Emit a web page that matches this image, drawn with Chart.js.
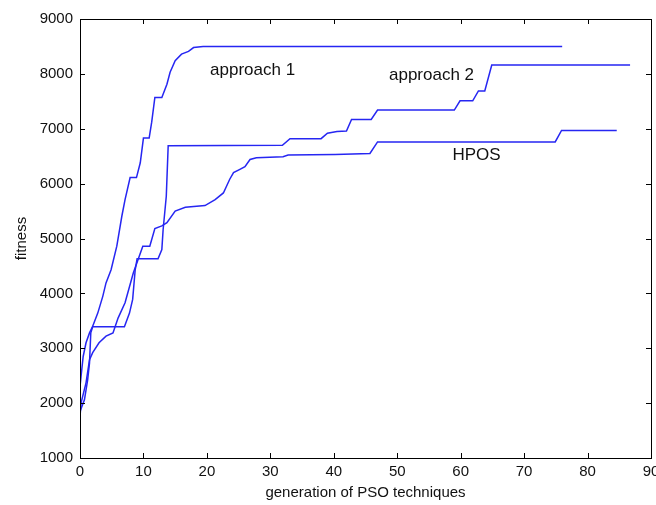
<!DOCTYPE html>
<html>
<head>
<meta charset="utf-8">
<script src="https://cdn.jsdelivr.net/npm/chart.js@4/dist/chart.umd.min.js"></script>
<style>
  html, body { margin: 0; padding: 0; background: #fff; }
  canvas { display: block; }
</style>
</head>
<body>
<canvas id="chart" width="656" height="505"></canvas>
<script>
// Data (generation, fitness)
const approach1X = [0, 0.16, 0.5, 0.95, 1.5, 2.0, 2.8, 3.6, 4.1, 4.9, 5.8, 6.6, 7.1, 7.9, 8.9, 9.5, 10.0, 10.9, 11.3, 11.8, 12.9, 13.7, 14.2, 15.0, 16.0, 17.1, 17.9, 19.4, 76];
const approach1Y = [2300, 2480, 2850, 3100, 3280, 3400, 3640, 3950, 4190, 4430, 4860, 5410, 5710, 6110, 6110, 6380, 6830, 6830, 7120, 7570, 7570, 7810, 8030, 8240, 8360, 8410, 8480, 8500, 8500];

const approach2X = [0, 0.7, 1.2, 1.5, 1.7, 2.0, 7.0, 7.8, 8.3, 8.7, 9.0, 12.3, 12.9, 13.1, 13.6, 13.9, 31.9, 33.1, 38.0, 39.0, 40.5, 42.0, 42.8, 45.9, 46.9, 59.0, 59.9, 61.9, 62.8, 63.8, 64.9, 86.7];
const approach2Y = [1850, 2060, 2420, 2730, 3280, 3390, 3390, 3640, 3890, 4430, 4630, 4630, 4800, 5160, 5770, 6690, 6700, 6820, 6820, 6920, 6950, 6960, 7170, 7170, 7340, 7340, 7510, 7510, 7690, 7690, 8160, 8160];

const hposX = [0, 0.16, 0.95, 1.5, 2.0, 3.0, 4.1, 5.2, 6.0, 7.1, 8.4, 9.9, 11.0, 11.8, 12.9, 13.7, 15.0, 16.6, 19.7, 21.3, 22.6, 23.6, 24.2, 25.2, 26.0, 26.8, 27.8, 32.0, 32.8, 40.2, 45.7, 46.9, 74.9, 75.9, 84.6];
const hposY = [1750, 2000, 2370, 2790, 2920, 3100, 3220, 3280, 3550, 3830, 4370, 4860, 4860, 5180, 5230, 5290, 5500, 5570, 5600, 5710, 5830, 6080, 6200, 6260, 6310, 6440, 6470, 6490, 6520, 6530, 6550, 6760, 6760, 6970, 6970];

const xTicks = [0, 10, 20, 30, 40, 50, 60, 70, 80, 90];
const yTicks = [1000, 2000, 3000, 4000, 5000, 6000, 7000, 8000, 9000];

// in-plot text labels, placed in data coordinates (left edge, baseline)
const labelTexts = ['approach 1', 'approach 2', 'HPOS'];
const labelX = [20.5, 48.7, 58.7];
const labelY = [7980, 7890, 6430];

const LINE = '#2626f2';

function pts(xs, ys) {
  return xs.map((x, i) => ({ x: x, y: ys[i] }));
}

function series(label, xs, ys) {
  return {
    label: label,
    data: pts(xs, ys),
    showLine: true,
    borderColor: LINE,
    borderWidth: 1.5,
    pointRadius: 0,
    tension: 0,
    fill: false
  };
}

// MATLAB style box with inward ticks + text labels
const boxPlugin = {
  id: 'box',
  afterDraw(chart) {
    const { ctx, chartArea: a, scales: { x, y } } = chart;
    ctx.save();
    ctx.strokeStyle = '#000';
    ctx.lineWidth = 1;
    ctx.strokeRect(Math.round(a.left) + 0.5, Math.round(a.top) + 0.5,
      Math.round(a.right - a.left), Math.round(a.bottom - a.top));
    ctx.beginPath();
    xTicks.forEach(v => {
      const px = Math.round(x.getPixelForValue(v)) + 0.5;
      ctx.moveTo(px, a.bottom); ctx.lineTo(px, a.bottom - 5);
      ctx.moveTo(px, a.top); ctx.lineTo(px, a.top + 5);
    });
    yTicks.forEach(v => {
      const py = Math.round(y.getPixelForValue(v)) + 0.5;
      ctx.moveTo(a.left, py); ctx.lineTo(a.left + 5, py);
      ctx.moveTo(a.right, py); ctx.lineTo(a.right - 5, py);
    });
    ctx.stroke();

    ctx.fillStyle = '#111';
    ctx.font = '17px "Liberation Sans", Arial, sans-serif';
    ctx.textAlign = 'left';
    ctx.textBaseline = 'alphabetic';
    labelTexts.forEach((t, i) => {
      ctx.fillText(t, x.getPixelForValue(labelX[i]), y.getPixelForValue(labelY[i]));
    });
    ctx.restore();
  }
};

const tickFont = { family: '"Liberation Sans", Arial, sans-serif', size: 15 };

new Chart(document.getElementById('chart'), {
  type: 'scatter',
  data: {
    datasets: [
      series('approach 1', approach1X, approach1Y),
      series('approach 2', approach2X, approach2Y),
      series('HPOS', hposX, hposY)
    ]
  },
  options: {
    responsive: false,
    animation: false,
    layout: { padding: { top: 19, right: 5, left: 0, bottom: 0 } },
    plugins: {
      legend: { display: false },
      tooltip: { enabled: false }
    },
    scales: {
      x: {
        type: 'linear',
        min: 0,
        max: 90,
        afterBuildTicks: s => { s.ticks = xTicks.map(v => ({ value: v })); },
        afterFit: s => { s.height = 47; s.paddingLeft = 0; s.paddingRight = 0; },
        grid: { display: false, drawTicks: false },
        border: { display: false },
        ticks: { color: '#111', font: tickFont, padding: 5, maxRotation: 0, callback: v => String(v) },
        title: {
          display: true,
          text: 'generation of PSO techniques',
          color: '#111',
          font: tickFont,
          padding: { top: 0, bottom: 3 }
        }
      },
      y: {
        type: 'linear',
        min: 1000,
        max: 9000,
        afterBuildTicks: s => { s.ticks = yTicks.map(v => ({ value: v })); },
        afterFit: s => { s.width = 80; s.paddingTop = 0; s.paddingBottom = 0; },
        grid: { display: false, drawTicks: false },
        border: { display: false },
        ticks: { color: '#111', font: tickFont, padding: 7, callback: v => String(v) },
        title: {
          display: true,
          text: 'fitness',
          color: '#111',
          font: tickFont,
          padding: { top: 13, bottom: 0 }
        }
      }
    }
  },
  plugins: [boxPlugin]
});
</script>
</body>
</html>
